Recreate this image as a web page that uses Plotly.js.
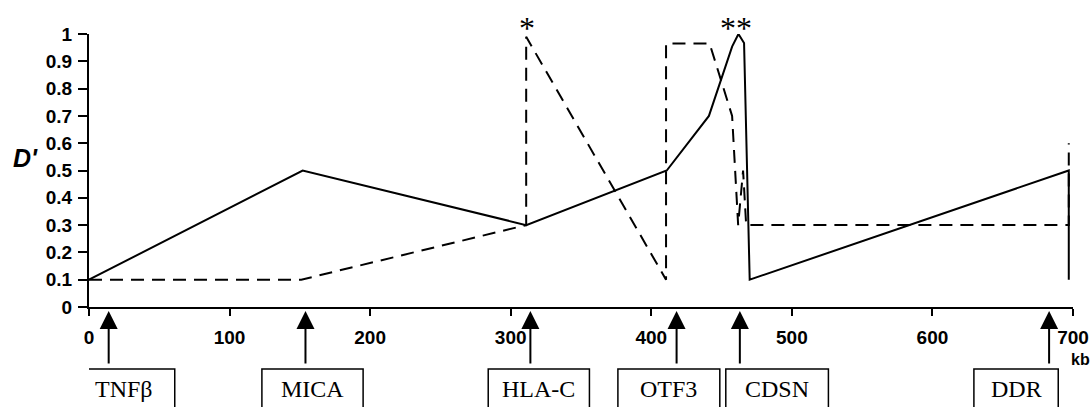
<!DOCTYPE html>
<html>
<head>
<meta charset="utf-8">
<script src="https://cdn.plot.ly/plotly-3.0.1.min.js"></script>
<style>html,body{margin:0;padding:0;background:#fff;}#chart{width:1091px;height:407px;}</style>
</head>
<body>
<div id="chart"></div>
<script>
// ---- data (kb, D') ----
const solidX = [0, 152, 311, 411, 441, 457.5, 462, 466, 470, 697, 697];
const solidY = [0.1, 0.5, 0.3, 0.5, 0.7, 0.954, 1.0, 0.967, 0.1, 0.5, 0.1];

const dashX = [0, 151, 311, 311, 410.5, 410.5, 441.5, 457.5, 461.8, 465.3, 467.5, 697, 697];
const dashY = [0.1, 0.1, 0.3, 0.99, 0.1, 0.965, 0.965, 0.7, 0.3, 0.5, 0.3, 0.3, 0.6];

const geneNames = ['TNFβ', 'MICA', 'HLA-C', 'OTF3', 'CDSN', 'DDR'];
const genePos = [14, 154, 314, 418, 463, 683];

const starLabels = ['*', '**'];
const starPos = [311.5, 460];

const xTickVals = [0, 100, 200, 300, 400, 500, 600, 700];
const xTickText = ['0', '100', '200', '300', '400', '500', '600', '700'];
const yTickVals = [0, 0.1, 0.2, 0.3, 0.4, 0.5, 0.6, 0.7, 0.8, 0.9, 1];
const yTickText = ['0', '0.1', '0.2', '0.3', '0.4', '0.5', '0.6', '0.7', '0.8', '0.9', '1'];

// ---- layout helpers (label box placement, kb) ----
const boxCenter = [25, 159, 320, 412.5, 489.5, 659.5];
const boxWidth = [72, 72, 72, 72.5, 73, 60];

const M = {l: 89, r: 18, t: 34, b: 100};
const plotW = 1091 - M.l - M.r;
const plotH = 407 - M.t - M.b;
const py = p => (407 - M.b - p) / plotH; // pixel row -> paper y
const px = p => (p - M.l) / plotW;        // pixel col -> paper x

const traces = [
  {x: solidX, y: solidY, mode: 'lines', line: {color: '#000', width: 2}, hoverinfo: 'skip', showlegend: false},
  {x: dashX, y: dashY, mode: 'lines', line: {color: '#000', width: 2, dash: '13px,8px'}, hoverinfo: 'skip', showlegend: false}
];

const annotations = [];
const shapes = [];

genePos.forEach((g, i) => {
  annotations.push({
    x: g, y: py(311), xref: 'x', yref: 'paper', text: '', showarrow: true,
    ax: 0, ay: 54, arrowhead: 2, arrowsize: 1.8, arrowwidth: 2, arrowcolor: '#000'
  });
  shapes.push({
    type: 'rect', xref: 'x', yref: 'paper',
    x0: boxCenter[i] - boxWidth[i] / 2, x1: boxCenter[i] + boxWidth[i] / 2,
    y0: py(369), y1: py(430), line: {color: '#000', width: 1.5}, fillcolor: 'rgba(0,0,0,0)'
  });
  annotations.push({
    x: boxCenter[i], y: py(389), xref: 'x', yref: 'paper', text: geneNames[i], showarrow: false,
    xanchor: 'center', yanchor: 'middle',
    font: {family: 'Liberation Serif, Times New Roman, serif', size: 24, color: '#000'}
  });
});

starPos.forEach((s, i) => {
  annotations.push({
    x: s, y: py(28), xref: 'x', yref: 'paper', text: starLabels[i], showarrow: false,
    xanchor: 'center', yanchor: 'middle',
    font: {family: 'Liberation Serif, Times New Roman, serif', size: 32, color: '#000'}
  });
});

annotations.push({
  x: px(1080), y: py(359), xref: 'paper', yref: 'paper', text: '<b>kb</b>', showarrow: false,
  xanchor: 'center', yanchor: 'middle',
  font: {family: 'Liberation Sans, Arial, sans-serif', size: 16, color: '#000'}
});

annotations.push({
  x: px(25), y: py(158), xref: 'paper', yref: 'paper',
  text: "<b><i>D'</i></b>", showarrow: false, xanchor: 'center', yanchor: 'middle',
  font: {family: 'Liberation Sans, Arial, sans-serif', size: 25, color: '#000'}
});

const tickFont = {family: 'Liberation Sans, Arial, sans-serif', size: 19, color: '#000'};
const bold = a => a.map(t => '<b>' + t + '</b>');

const layout = {
  width: 1091, height: 407,
  margin: M,
  paper_bgcolor: '#fff', plot_bgcolor: '#fff',
  showlegend: false,
  xaxis: {
    range: [0, 700], tickvals: xTickVals, ticktext: bold(xTickText), ticks: 'outside', ticklen: 7, tickwidth: 2, tickcolor: '#000',
    showline: true, linecolor: '#000', linewidth: 2, showgrid: false, zeroline: false,
    tickfont: tickFont, ticklabelstandoff: 5
  },
  yaxis: {
    range: [0, 1], tickvals: yTickVals, ticktext: bold(yTickText), ticks: 'outside', ticklen: 9, tickwidth: 2, tickcolor: '#000',
    showline: true, linecolor: '#000', linewidth: 2, showgrid: false, zeroline: false,
    tickfont: tickFont, ticklabelstandoff: 2
  },
  annotations: annotations,
  shapes: shapes
};

Plotly.newPlot('chart', traces, layout, {displayModeBar: false, staticPlot: true});
</script>
</body>
</html>
